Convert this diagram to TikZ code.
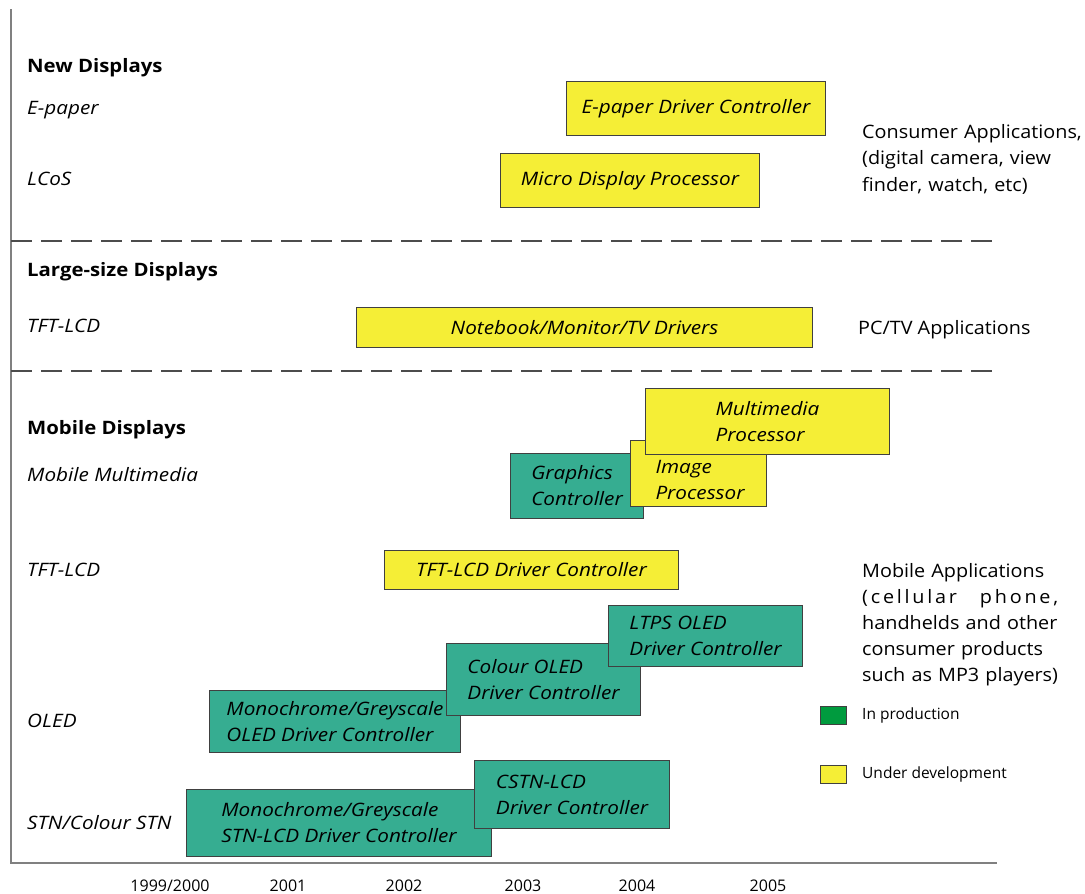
\documentclass[tikz,border=0pt]{standalone}
\usepackage{fontspec}
\setmainfont{Open Sans}
\newfontfamily\uprfont[FakeStretch=1.07]{Open Sans}
\newfontfamily\itfont[FakeStretch=1.12]{Open Sans}
\newfontfamily\bdfont[FakeStretch=1.1]{Open Sans}
\usetikzlibrary{positioning}
\definecolor{boxyellow}{RGB}{245,238,54}
\definecolor{boxgreen}{RGB}{54,173,145}
\definecolor{keygreen}{RGB}{0,155,62}

\begin{document}
\begin{tikzpicture}[
       x=1pt, y=-1pt,
       axis_style/.style={draw=black!50, line width=1.6}, % 坐标轴
       sep_style/.style={draw=black!70, line width=1.2, dash pattern=on 21 off 9}, % 分隔虚线
       box_style/.style={draw=black!75, line width=1, anchor=north west, inner sep=0,
                         align=left, font=\fontsize{18.5}{26}\itfont\itshape},
       ybox/.style={box_style, fill=boxyellow},
       gbox/.style={box_style, fill=boxgreen},
       head_style/.style={anchor=base west, inner sep=0, font=\fontsize{18.5}{22}\bdfont\bfseries},
       kind_style/.style={anchor=base west, inner sep=0, font=\fontsize{18.5}{22}\itfont\itshape},
       app_style/.style={anchor=base west, inner sep=0, font=\fontsize{18.5}{26.7}\uprfont},
       key_style/.style={draw=black!75, line width=1, minimum width=26, minimum height=18, inner sep=0, anchor=north west},
       keytext_style/.style={inner sep=0, font=\fontsize{15.5}{18}\selectfont},
       year_style/.style={anchor=base, inner sep=0, font=\fontsize{16}{18}\selectfont}
   ]

   \useasboundingbox (0,0) rectangle (1085,894);

   % 1. 坐标轴与分隔线
   \draw[axis_style] (11,9) -- (11,863) -- (997,863);
   \draw[sep_style] (11,241) -- (997,241);
   \draw[sep_style] (11,371) -- (997,371);

   % 2. 左侧分类标签
   \node[head_style] (newdisp) at (27,72) {New Displays};
   \node[kind_style] (epaperlbl) at (27,114) {E-paper};
   \node[kind_style] (lcoslbl) at (27,185) {LCoS};
   \node[head_style] (largedisp) at (27,276) {Large-size Displays};
   \node[kind_style] (tftlbl) at (27,332) {TFT-LCD};
   \node[head_style] (mobiledisp) at (27,434) {Mobile Displays};
   \node[kind_style] (mmlbl) at (27,481) {Mobile Multimedia};
   \node[kind_style] (mtftlbl) at (27,576) {TFT-LCD};
   \node[kind_style] (oledlbl) at (27,727) {OLED};
   \node[kind_style] (stnlbl) at (27,829) {STN/Colour STN};

   % 3. 产品框(后画的压在上面)
   \node[ybox, minimum width=259, minimum height=54] (epaper) at (566,81) {E-paper Driver Controller};
   \node[ybox, minimum width=259, minimum height=54] (micro) at (500,153) {Micro Display Processor};
   \node[ybox, minimum width=456, minimum height=40] (notebook) at (356,307) {Notebook/Monitor/TV Drivers};

   \node[gbox, minimum width=133, minimum height=65] (graphics) at (510,453) {Graphics\\Controller};
   \node[ybox, minimum width=136, minimum height=66] (image) at (630,440) {};
   \node[inner sep=0, align=left, font=\fontsize{18.5}{26}\itfont\itshape] (imagetxt) at (700,480) {Image\\Processor};
   \node[ybox, minimum width=244, minimum height=66] (multimedia) at (645,388) {Multimedia\\Processor};

   \node[ybox, minimum width=294, minimum height=39] (tftdrv) at (384,550) {TFT-LCD Driver Controller};

   \node[gbox, minimum width=251, minimum height=62] (monooled) at (209,690) {Monochrome/Greyscale\\OLED Driver Controller};
   \node[gbox, minimum width=194, minimum height=72] (colouroled) at (446,643) {Colour OLED\\Driver Controller};
   \node[gbox, minimum width=194, minimum height=61] (ltps) at (608,605) {LTPS OLED\\Driver Controller};

   \node[gbox, minimum width=305, minimum height=67] (stn) at (186,789) {Monochrome/Greyscale\\STN-LCD Driver Controller};
   \node[gbox, minimum width=195, minimum height=68] (cstn) at (474,760) {CSTN-LCD\\Driver Controller};

   % 4. 右侧应用说明
   \node[app_style, text width=225, align=left] (consumer) at (862,138)
        {Consumer Applications,\\(digital camera, view\\finder, watch, etc)};
   \node[app_style] (pctv) at (858,334) {PC/TV Applications};
   \node[app_style, text width=196, align=left, font=\fontsize{18.5}{26}\uprfont] (mobileapp) at (862,577)
        {Mobile Applications\\
         \makebox[196pt][s]{\addfontfeature{LetterSpace=15}(cellular\hspace{12pt plus 1fil}phone,}\\
         \makebox[196pt][s]{handhelds and other}\\
         \makebox[196pt][s]{consumer products}\\
         \makebox[196pt][s]{such as MP3 players)}};

   % 5. 图例
   \node[key_style, fill=keygreen] (prodkey) at (820,706) {};
   \node[keytext_style, right=15 of prodkey] (prodtxt) {In production};
   \node[key_style, fill=boxyellow] (devkey) at (820,765) {};
   \node[keytext_style, right=15 of devkey] (devtxt) {Under development};

   % 6. 年份
   \node[year_style] (y2000) at (170,891) {1999/2000};
   \node[year_style] (y2001) at (288,891) {2001};
   \node[year_style] (y2002) at (404,891) {2002};
   \node[year_style] (y2003) at (523,891) {2003};
   \node[year_style] (y2004) at (637,891) {2004};
   \node[year_style] (y2005) at (768,891) {2005};

   \end{tikzpicture}
\end{document}
